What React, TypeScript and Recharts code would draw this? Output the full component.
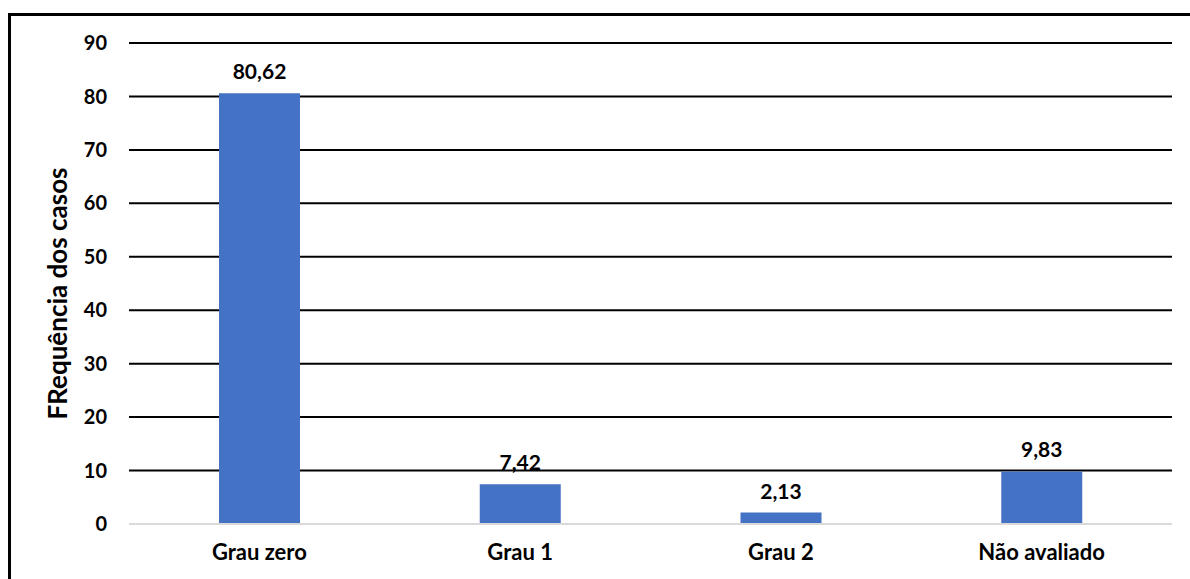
import { Bar, BarChart, CartesianGrid, LabelList, XAxis, YAxis } from "recharts";

const categories = ["Grau zero", "Grau 1", "Grau 2", "Não avaliado"];
const frequencies = [80.62, 7.42, 2.13, 9.83];
const yTicks = [0, 10, 20, 30, 40, 50, 60, 70, 80, 90];

const data = categories.map((grau, i) => ({ grau, freq: frequencies[i] }));

const font = "Lato, 'Open Sans', sans-serif";

export default function App() {
  return (
    <div
      style={{
        position: "absolute",
        left: 0,
        top: 0,
        width: 1190,
        height: 579,
        overflow: "hidden",
        background: "#fff",
        fontFamily: font,
      }}
    >
      <div
        style={{
          position: "absolute",
          left: 8,
          top: 13,
          width: 1300,
          height: 700,
          border: "3px solid #000",
        }}
      />
      <BarChart
        width={1190}
        height={579}
        data={data}
        margin={{ top: 43, right: 18, left: 0, bottom: 0 }}
        style={{ position: "absolute", left: 0, top: 0 }}
      >
        <CartesianGrid vertical={false} stroke="#000" strokeWidth={2} />
        <XAxis
          dataKey="grau"
          height={55}
          tickLine={false}
          axisLine={{ stroke: "#d9d9d9", strokeWidth: 2 }}
          tickMargin={14}
          tick={{ fill: "#000", fontSize: 22, fontWeight: 700, fontFamily: font }}
        />
        <YAxis
          width={129}
          domain={[0, 90]}
          ticks={yTicks}
          interval={0}
          tickLine={false}
          axisLine={false}
          tickMargin={16}
          tick={{ fill: "#000", fontSize: 20, fontWeight: 700, fontFamily: font }}
          label={{
            value: "FRequência dos casos",
            angle: -90,
            position: "insideLeft",
            offset: 58,
            dy: 10,
            style: { textAnchor: "middle", fill: "#000", fontSize: 26, fontWeight: 700, fontFamily: font },
          }}
        />
        <Bar dataKey="freq" fill="#4472C4" barSize={81} isAnimationActive={false}>
          <LabelList
            dataKey="freq"
            position="top"
            offset={14}
            formatter={(v: any) => Number(v).toFixed(2).replace(".", ",")}
            style={{ fill: "#000", fontSize: 21, fontWeight: 700, fontFamily: font }}
          />
        </Bar>
      </BarChart>
    </div>
  );
}
